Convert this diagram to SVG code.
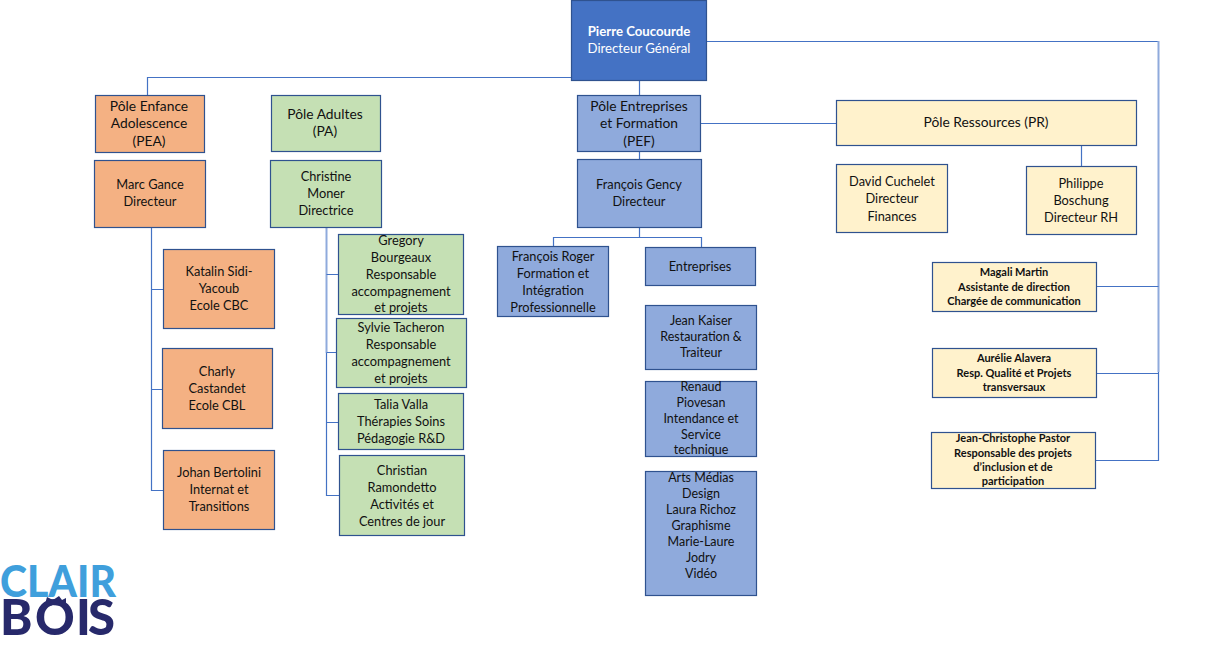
<svg xmlns="http://www.w3.org/2000/svg" width="1230" height="669" viewBox="0 0 1230 669">
<style>
rect{stroke:#2F528F;stroke-width:1.2}
text{font-family:Lato,"Liberation Sans",sans-serif;font-size:12.8px;fill:#111;text-anchor:middle}
.or{fill:#F4B183}.gr{fill:#C5E0B4}.bl{fill:#8FAADC}.cr{fill:#FFF2CC}
.pole text{font-size:13.8px}
.col text{font-size:12.5px}
.small text{font-size:11px;font-weight:700}
#root text{fill:#fff;font-size:13.2px}
#connectors path{fill:none;stroke:#4472C4;stroke-width:1.2}
#connectors path.light{stroke:#8FAADC;stroke-width:2}
#logo text{font-weight:900;text-anchor:start}
</style>
<g id="connectors">
<path d="M571 77.500H147.500V95"/>
<path d="M707 41.500H1158.500"/>
<path class="light" d="M1158.500 41V372"/>
<path d="M1158.500 372V460.500H1096"/>
<path d="M1097 286.500H1158.500M1097 373.500H1158.500"/>
<path d="M639.500 80V95M639.500 151V159M701 123.500H836M1081.500 146V166"/>
<path d="M151.500 228V490.500H163M151.500 289.500H163M151.500 389.500H162"/>
<path class="light" d="M326.500 228V353"/>
<path d="M326.500 353V495.500H339M326.500 274.500H338M326.500 352.500H336M326.500 422.500H338"/>
<path d="M639.500 228V237.500M553.500 247V237.500H701.500V247"/>
</g>
<g id="root"><rect x="571.500" y="0.500" width="135" height="80" fill="#4472C4"/><text x="639" y="36" font-weight="700">Pierre Coucourde</text><text x="639" y="53">Directeur Général</text></g>
<g id="pea" class="pole"><rect class="or" x="95.500" y="95.500" width="109" height="57"/><text x="149" y="111">Pôle Enfance</text><text x="149" y="128">Adolescence</text><text x="149" y="146">(PEA)</text></g>
<g id="marc"><rect class="or" x="94.500" y="160.500" width="111" height="67"/><text x="150" y="189">Marc Gance</text><text x="150" y="206">Directeur</text></g>
<g id="katalin"><rect class="or" x="163.500" y="249.500" width="111" height="79"/><text x="219" y="276">Katalin Sidi-</text><text x="219" y="293">Yacoub</text><text x="219" y="310">Ecole CBC</text></g>
<g id="charly"><rect class="or" x="162.500" y="348.500" width="110" height="80"/><text x="217" y="376">Charly</text><text x="217" y="393">Castandet</text><text x="217" y="410">Ecole CBL</text></g>
<g id="johan"><rect class="or" x="163.500" y="450.500" width="111" height="79"/><text x="219" y="477">Johan Bertolini</text><text x="219" y="494">Internat et</text><text x="219" y="511">Transitions</text></g>
<g id="pa" class="pole"><rect class="gr" x="271.500" y="95.500" width="109" height="56"/><text x="325" y="119">Pôle Adultes</text><text x="325" y="136">(PA)</text></g>
<g id="christine"><rect class="gr" x="270.500" y="160.500" width="111" height="67"/><text x="326" y="181">Christine</text><text x="326" y="198">Moner</text><text x="326" y="215">Directrice</text></g>
<g id="gregory"><rect class="gr" x="338.500" y="234.500" width="125" height="80"/><text x="401" y="245">Gregory</text><text x="401" y="262">Bourgeaux</text><text x="401" y="279">Responsable</text><text x="401" y="296">accompagnement</text><text x="401" y="312">et projets</text></g>
<g id="sylvie"><rect class="gr" x="336.500" y="318.500" width="130" height="69"/><text x="401" y="332">Sylvie Tacheron</text><text x="401" y="349">Responsable</text><text x="401" y="366">accompagnement</text><text x="401" y="383">et projets</text></g>
<g id="talia"><rect class="gr" x="338.500" y="393.500" width="125" height="56"/><text x="401" y="409">Talia Valla</text><text x="401" y="426">Thérapies Soins</text><text x="401" y="443">Pédagogie R&amp;D</text></g>
<g id="christian"><rect class="gr" x="339.500" y="455.500" width="125" height="80"/><text x="402" y="475">Christian</text><text x="402" y="492">Ramondetto</text><text x="402" y="509">Activités et</text><text x="402" y="526">Centres de jour</text></g>
<g id="pef" class="pole"><rect class="bl" x="577.500" y="95.500" width="123" height="56"/><text x="639" y="111">Pôle Entreprises</text><text x="639" y="128">et Formation</text><text x="639" y="146">(PEF)</text></g>
<g id="gency"><rect class="bl" x="577.500" y="159.500" width="124" height="68"/><text x="639" y="189">François Gency</text><text x="639" y="206">Directeur</text></g>
<g id="roger"><rect class="bl" x="497.500" y="246.500" width="111" height="70"/><text x="553" y="261">François Roger</text><text x="553" y="278">Formation et</text><text x="553" y="295">Intégration</text><text x="553" y="312">Professionnelle</text></g>
<g id="entreprises"><rect class="bl" x="645.500" y="247.500" width="110" height="38"/><text x="700" y="271">Entreprises</text></g>
<g id="kaiser" class="col"><rect class="bl" x="645.500" y="305.500" width="111" height="64"/><text x="701" y="325">Jean Kaiser</text><text x="701" y="341">Restauration &amp;</text><text x="701" y="357">Traiteur</text></g>
<g id="renaud" class="col"><rect class="bl" x="645.500" y="381.500" width="111" height="75"/><text x="701" y="391">Renaud</text><text x="701" y="407">Piovesan</text><text x="701" y="423">Intendance et</text><text x="701" y="439">Service</text><text x="701" y="454">technique</text></g>
<g id="arts" class="col"><rect class="bl" x="645.500" y="471.500" width="111" height="124"/><text x="701" y="482">Arts Médias</text><text x="701" y="498">Design</text><text x="701" y="514">Laura Richoz</text><text x="701" y="530">Graphisme</text><text x="701" y="546">Marie-Laure</text><text x="701" y="562">Jodry</text><text x="701" y="578">Vidéo</text></g>
<g id="pr" class="pole"><rect class="cr" x="836.500" y="100.500" width="300" height="45"/><text x="986" y="127">Pôle Ressources (PR)</text></g>
<g id="david"><rect class="cr" x="836.500" y="164.500" width="111" height="68"/><text x="892" y="186">David Cuchelet</text><text x="892" y="203">Directeur</text><text x="892" y="221">Finances</text></g>
<g id="philippe"><rect class="cr" x="1026.500" y="166.500" width="110" height="68"/><text x="1081" y="188">Philippe</text><text x="1081" y="205">Boschung</text><text x="1081" y="222">Directeur RH</text></g>
<g id="magali" class="small"><rect class="cr" x="932.500" y="262.500" width="164" height="49"/><text x="1014" y="276">Magali Martin</text><text x="1014" y="291">Assistante de direction</text><text x="1014" y="305">Chargée de communication</text></g>
<g id="aurelie" class="small"><rect class="cr" x="932.500" y="348.500" width="164" height="49"/><text x="1014" y="362">Aurélie Alavera</text><text x="1014" y="377">Resp. Qualité et Projets</text><text x="1014" y="391">transversaux</text></g>
<g id="jc" class="small"><rect class="cr" x="931.500" y="432.500" width="164" height="56"/><text x="1013" y="442">Jean-Christophe Pastor</text><text x="1013" y="457">Responsable des projets</text><text x="1013" y="471">d’inclusion et de</text><text x="1013" y="485">participation</text></g>
<g id="logo">
<text x="0" y="597" font-size="44" textLength="116" lengthAdjust="spacingAndGlyphs" style="fill:#3F9FDC;font-size:44px">CLAIR</text>
<text x="0 35 76 88" y="635" style="fill:#27296B;font-size:49px">BOIS</text>
<path d="M45 604L47 597L53 600L59 596L62 600L66 598L66 606Z" fill="#27296B"/>
<path d="M53 605L62 614L54 622L46 613Z" fill="#fff"/>
</g>
</svg>
